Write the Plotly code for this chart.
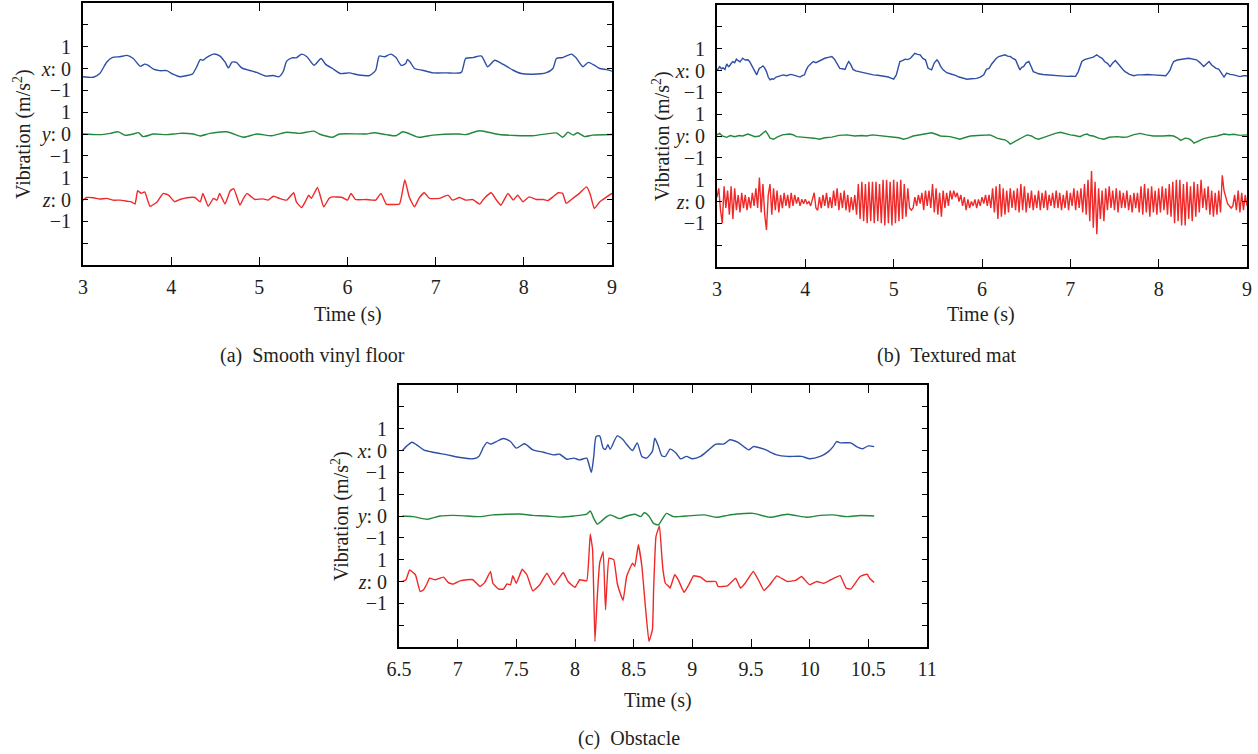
import plotly.graph_objects as go

W, H = 1258, 754
FONT = "Liberation Serif"
BLUE = "#2d4fa6"
GREEN = "#23883b"
RED = "#f02828"
TXT = "#231f20"

# ---------------- (a) Smooth vinyl floor ----------------
a_x_t = [3.00, 3.12, 3.19, 3.27, 3.33, 3.42, 3.50, 3.57, 3.65, 3.70, 3.74, 3.80, 3.87, 3.95, 4.02, 4.10, 4.18, 4.24,
         4.29, 4.33, 4.36, 4.40, 4.48, 4.55, 4.61, 4.65, 4.69, 4.74, 4.80, 4.88, 4.97, 5.08, 5.16, 5.22, 5.27, 5.31,
         5.37, 5.42, 5.48, 5.54, 5.62, 5.70, 5.75, 5.83, 5.92, 6.02, 6.13, 6.25, 6.32, 6.36, 6.42, 6.49, 6.55, 6.61,
         6.66, 6.68, 6.71, 6.76, 6.85, 6.97, 7.12, 7.29, 7.34, 7.42, 7.52, 7.59, 7.67, 7.76, 7.88, 7.97, 8.10, 8.25,
         8.33, 8.37, 8.44, 8.54, 8.59, 8.67, 8.73, 8.80, 8.86, 8.94, 9.00]
a_x_v = [-0.38, -0.40, -0.23, 0.30, 0.50, 0.54, 0.60, 0.46, 0.10, 0.20, 0.14, -0.03, -0.10, -0.10, -0.26, -0.38, -0.32,
         -0.26, 0.08, 0.41, 0.38, 0.50, 0.66, 0.58, 0.30, 0.03, 0.29, 0.28, 0.03, -0.08, -0.18, -0.35, -0.32, -0.38,
         -0.15, 0.34, 0.49, 0.49, 0.66, 0.54, 0.15, 0.46, 0.20, 0.00, -0.23, -0.20, -0.30, -0.32, -0.08, 0.57, 0.54,
         0.66, 0.50, 0.14, 0.23, 0.41, 0.30, 0.00, -0.08, -0.20, -0.20, -0.18, 0.46, 0.50, 0.57, 0.08, 0.38, 0.20,
         -0.08, -0.23, -0.26, -0.20, 0.00, 0.46, 0.50, 0.66, 0.50, 0.08, 0.28, 0.15, 0.00, -0.05, -0.12]

a_y_t = [3.00, 3.19, 3.31, 3.40, 3.48, 3.57, 3.63, 3.68, 3.80, 3.95, 4.10, 4.25, 4.33, 4.44, 4.63, 4.82, 4.97, 5.14,
         5.31, 5.46, 5.62, 5.68, 5.83, 5.91, 6.21, 6.30, 6.44, 6.55, 6.63, 6.81, 6.97, 7.27, 7.34, 7.50, 7.72, 8.10,
         8.37, 8.44, 8.50, 8.56, 8.61, 8.69, 8.78, 9.00]
a_y_v = [0.00, -0.03, 0.03, 0.10, -0.06, 0.00, 0.06, -0.12, 0.00, -0.03, 0.03, 0.00, -0.09, 0.03, 0.10, -0.15, 0.00,
         -0.08, 0.08, 0.03, 0.13, 0.00, -0.15, 0.00, 0.00, 0.06, -0.03, -0.08, 0.10, -0.15, -0.05, 0.00, -0.03, 0.15,
         -0.02, -0.08, 0.05, -0.15, 0.08, -0.05, 0.06, -0.12, -0.05, -0.02]

a_z_t = [3.00, 3.04, 3.12, 3.19, 3.27, 3.34, 3.42, 3.50, 3.55, 3.59, 3.62, 3.66, 3.70, 3.76, 3.84, 3.91, 3.97, 4.04,
         4.10, 4.18, 4.27, 4.33, 4.36, 4.42, 4.48, 4.52, 4.55, 4.61, 4.67, 4.71, 4.78, 4.82, 4.86, 4.91, 4.95, 5.04,
         5.10, 5.16, 5.23, 5.31, 5.39, 5.42, 5.48, 5.52, 5.56, 5.59, 5.66, 5.73, 5.79, 5.83, 5.94, 6.00, 6.04, 6.09,
         6.21, 6.32, 6.38, 6.44, 6.51, 6.59, 6.65, 6.70, 6.76, 6.81, 6.87, 6.93, 7.04, 7.14, 7.19, 7.27, 7.34, 7.42,
         7.50, 7.55, 7.63, 7.69, 7.74, 7.82, 7.88, 7.93, 7.99, 8.06, 8.14, 8.22, 8.27, 8.33, 8.39, 8.44, 8.48, 8.54,
         8.63, 8.71, 8.75, 8.80, 8.86, 8.94, 9.00]
a_z_v = [-0.03, 0.09, 0.08, 0.02, 0.05, -0.03, -0.03, -0.08, -0.11, -0.21, 0.40, 0.28, 0.35, -0.31, -0.11, 0.28, 0.20,
         -0.10, 0.00, 0.08, 0.09, -0.11, 0.28, -0.31, 0.05, -0.03, 0.28, -0.21, 0.40, 0.50, -0.26, 0.05, 0.28, 0.12,
         0.00, 0.03, -0.03, 0.15, 0.05, -0.03, 0.31, -0.11, -0.37, -0.11, 0.20, 0.05, 0.55, -0.34, 0.05, 0.12, 0.09,
         -0.03, 0.28, 0.00, 0.00, -0.03, 0.28, -0.21, -0.23, -0.21, 0.89, 0.12, -0.34, 0.05, 0.31, 0.05, 0.05, 0.20,
         -0.03, 0.09, -0.03, 0.00, -0.21, 0.05, 0.31, -0.03, -0.26, 0.28, -0.03, 0.20, -0.10, 0.12, 0.00, 0.00, -0.05,
         0.12, 0.31, 0.28, -0.18, 0.00, 0.28, 0.58, 0.28, -0.41, -0.11, 0.12, 0.28]

# ---------------- (b) Textured mat ----------------
b_x_t = [3.00, 3.03, 3.05, 3.07, 3.09, 3.11, 3.13, 3.14, 3.16, 3.18, 3.20, 3.22, 3.24, 3.26, 3.28, 3.29, 3.32, 3.35,
         3.37, 3.39, 3.41, 3.43, 3.45, 3.47, 3.48, 3.50, 3.52, 3.54, 3.56, 3.58, 3.60, 3.62, 3.64, 3.67, 3.71, 3.75,
         3.79, 3.83, 3.86, 3.90, 3.94, 3.97, 3.99, 4.01, 4.03, 4.06, 4.09, 4.12, 4.15, 4.18, 4.22, 4.26, 4.30, 4.33,
         4.36, 4.39, 4.42, 4.45, 4.47, 4.49, 4.51, 4.54, 4.57, 4.60, 4.64, 4.69, 4.73, 4.77, 4.82, 4.86, 4.90, 4.94,
         4.97, 5.00, 5.03, 5.05, 5.07, 5.10, 5.13, 5.16, 5.19, 5.22, 5.24, 5.27, 5.30, 5.33, 5.36, 5.39, 5.41, 5.43,
         5.46, 5.49, 5.51, 5.53, 5.56, 5.60, 5.64, 5.68, 5.70, 5.74, 5.78, 5.83, 5.88, 5.94, 5.98, 6.02, 6.05, 6.08,
         6.11, 6.13, 6.16, 6.19, 6.22, 6.26, 6.29, 6.32, 6.35, 6.38, 6.41, 6.43, 6.45, 6.47, 6.50, 6.53, 6.56, 6.58,
         6.61, 6.64, 6.69, 6.74, 6.80, 6.85, 6.90, 6.96, 7.01, 7.06, 7.09, 7.11, 7.13, 7.16, 7.19, 7.23, 7.26, 7.30,
         7.33, 7.36, 7.39, 7.42, 7.45, 7.48, 7.51, 7.54, 7.57, 7.60, 7.62, 7.67, 7.72, 7.76, 7.81, 7.87, 7.94, 8.01,
         8.08, 8.11, 8.13, 8.15, 8.17, 8.21, 8.25, 8.30, 8.34, 8.39, 8.43, 8.47, 8.51, 8.54, 8.57, 8.60, 8.62, 8.65,
         8.68, 8.71, 8.74, 8.77, 8.81, 8.85, 8.89, 8.92, 8.96, 9.00]
b_x_v = [0.00, 0.18, 0.08, 0.12, 0.05, 0.30, 0.18, 0.20, 0.32, 0.41, 0.36, 0.52, 0.45, 0.40, 0.50, 0.56, 0.48, 0.49,
         0.40, 0.26, 0.10, -0.05, -0.20, 0.02, 0.10, 0.15, 0.21, 0.12, -0.05, -0.30, -0.43, -0.38, -0.40, -0.30, -0.24,
         -0.20, -0.24, -0.18, -0.20, -0.26, -0.30, -0.22, -0.20, 0.02, 0.18, 0.30, 0.41, 0.36, 0.42, 0.48, 0.56, 0.60,
         0.64, 0.52, 0.30, 0.10, 0.08, 0.05, 0.25, 0.41, 0.30, 0.05, -0.02, -0.05, -0.10, -0.15, -0.18, -0.20, -0.22,
         -0.24, -0.28, -0.30, -0.35, -0.40, -0.20, 0.10, 0.41, 0.45, 0.52, 0.50, 0.56, 0.70, 0.79, 0.74, 0.72, 0.55,
         0.49, 0.10, 0.05, 0.03, 0.35, 0.49, 0.38, 0.20, 0.03, -0.10, -0.15, -0.18, -0.22, -0.30, -0.35, -0.40, -0.38,
         -0.36, -0.30, -0.20, 0.05, 0.10, 0.30, 0.41, 0.55, 0.64, 0.68, 0.72, 0.66, 0.64, 0.55, 0.49, 0.20, 0.03, 0.15,
         0.18, 0.35, 0.41, 0.15, -0.05, -0.10, -0.15, -0.18, -0.20, -0.22, -0.24, -0.26, -0.27, -0.26, -0.27, -0.05,
         0.20, 0.41, 0.50, 0.52, 0.58, 0.61, 0.72, 0.62, 0.56, 0.40, 0.33, 0.18, 0.35, 0.46, 0.30, 0.18, 0.02, -0.05,
         -0.18, -0.24, -0.20, -0.20, -0.18, -0.20, -0.22, -0.24, -0.10, 0.03, 0.25, 0.41, 0.48, 0.52, 0.54, 0.56, 0.52,
         0.49, 0.35, 0.18, 0.30, 0.41, 0.25, 0.18, 0.10, 0.06, -0.10, -0.30, -0.12, -0.18, -0.20, -0.24, -0.28, -0.24,
         -0.24]

b_y_t = [3.00, 3.03, 3.06, 3.11, 3.15, 3.20, 3.25, 3.29, 3.35, 3.39, 3.43, 3.48, 3.52, 3.55, 3.58, 3.60, 3.64, 3.68,
         3.74, 3.82, 3.86, 3.90, 3.96, 4.05, 4.10, 4.16, 4.22, 4.30, 4.38, 4.47, 4.56, 4.64, 4.69, 4.76, 4.85, 5.00,
         5.06, 5.11, 5.16, 5.22, 5.30, 5.38, 5.43, 5.48, 5.53, 5.64, 5.70, 5.75, 5.80, 5.87, 5.95, 6.02, 6.09, 6.13,
         6.17, 6.22, 6.26, 6.29, 6.32, 6.36, 6.40, 6.45, 6.51, 6.56, 6.60, 6.64, 6.70, 6.77, 6.83, 6.89, 6.94, 7.00,
         7.05, 7.11, 7.15, 7.19, 7.22, 7.26, 7.32, 7.38, 7.44, 7.53, 7.59, 7.64, 7.72, 7.79, 7.86, 7.94, 8.05, 8.12,
         8.17, 8.21, 8.25, 8.30, 8.34, 8.37, 8.40, 8.45, 8.51, 8.58, 8.66, 8.74, 8.80, 8.85, 8.92, 9.00]
b_y_v = [0.05, 0.12, 0.00, -0.06, 0.02, -0.03, 0.02, 0.00, 0.09, 0.03, -0.03, 0.00, 0.12, 0.23, 0.05, -0.10, -0.15,
         -0.05, 0.05, 0.09, 0.06, -0.03, -0.05, -0.06, -0.10, -0.15, -0.08, -0.05, 0.03, 0.05, 0.00, 0.02, 0.00, 0.05,
         0.02, -0.03, -0.08, -0.15, -0.10, 0.00, 0.05, 0.10, 0.15, 0.08, 0.00, -0.03, -0.08, -0.15, -0.08, 0.00, 0.02,
         0.05, 0.05, -0.02, -0.10, -0.15, -0.18, -0.25, -0.37, -0.28, -0.18, -0.08, 0.05, 0.00, -0.10, -0.15, -0.06,
         0.05, 0.12, 0.17, 0.10, 0.05, 0.02, -0.03, 0.05, 0.09, 0.02, 0.00, -0.10, -0.15, -0.06, -0.03, -0.06, -0.05,
         0.06, 0.12, 0.05, 0.00, 0.00, 0.02, 0.00, -0.08, -0.20, -0.10, -0.12, -0.20, -0.33, -0.25, -0.12, -0.05, 0.00,
         0.09, 0.06, 0.08, 0.03, 0.05]

# z of textured mat, sampled every 0.02 s from 3.00 s to 9.00 s
b_z_start = 3.00
b_z_step = 0.02
b_z_v = [
    0.2, 0.6, -0.4, -1.0, 0.7, -0.3, 0.5, -0.6, 0.7, -0.8,
    0.6, -0.4, 0.3, -0.5, 0.4, -0.3, 0.3, -0.4, 0.2, -0.3,
    0.4, -0.2, 0.6, -0.3, 1.1, -0.5, 0.8, -0.6, -1.3, 0.3,
    0.8, -0.6, 0.6, -0.4, 0.5, -0.5, 0.3, -0.3, 0.4, -0.2,
    0.3, -0.3, 0.4, -0.2, 0.3, -0.1, 0.2, -0.2, 0.1, -0.1,
    0.1, -0.1, 0.0, -0.2, 0.1, 0.4, -0.3, -0.4, 0.2, -0.3,
    0.3, -0.2, 0.4, -0.3, 0.2, -0.3, 0.5, -0.2, 0.6, -0.4,
    0.4, -0.3, 0.5, -0.4, 0.3, -0.5, 0.2, -0.4, 0.3, -0.6,
    0.8, -0.8, 0.9, -0.9, 0.8, -1.0, 0.9, -0.9, 0.9, -1.0,
    0.9, -0.9, 0.8, -1.0, 1.0, -1.1, 1.0, -1.0, 0.9, -1.1,
    1.0, -1.0, 0.9, -0.9, 1.0, -0.8, 0.8, -0.7, 0.6, -0.3,
    -0.4, -0.3, 0.2, -0.2, 0.3, -0.1, 0.4, -0.4, 0.5, -0.2,
    0.5, -0.3, 0.8, -0.5, 0.6, -0.6, 0.4, -0.7, 0.5, -0.3,
    0.4, -0.2, 0.5, 0.1, 0.5, 0.2, 0.4, 0.0, 0.3, -0.2,
    0.2, -0.4, 0.1, -0.3, 0.0, -0.2, 0.1, -0.3, 0.1, -0.2,
    0.2, -0.1, 0.3, -0.2, 0.3, -0.3, 0.6, -0.5, 0.7, -0.8,
    0.8, -0.7, 0.6, -0.6, 0.5, -0.5, 0.6, -0.3, 0.5, -0.4,
    0.6, -0.5, 0.8, -0.4, 0.7, -0.5, 0.4, -0.3, 0.5, -0.4,
    0.3, -0.3, 0.5, -0.4, 0.4, -0.3, 0.5, -0.4, 0.3, -0.2,
    0.4, -0.3, 0.5, -0.3, 0.4, -0.4, 0.3, -0.3, 0.5, -0.4,
    0.4, -0.2, 0.6, -0.4, 0.5, -0.3, 0.6, -0.5, 0.8, -0.6,
    1.0, -0.9, 1.4, -1.2, 0.9, -1.5, 0.6, -0.8, 0.5, -0.9,
    0.6, -0.4, 0.7, -0.3, 0.5, -0.4, 0.6, -0.5, 0.5, -0.3,
    0.4, -0.3, 0.5, -0.4, 0.3, -0.5, 0.4, -0.3, 0.4, -0.5,
    0.7, -0.6, 0.8, -0.5, 0.6, -0.7, 0.7, -0.5, 0.5, -0.6,
    0.6, -0.5, 0.7, -0.4, 0.6, -0.6, 0.8, -0.7, 0.9, -1.0,
    1.0, -0.9, 1.0, -1.1, 0.8, -1.1, 0.9, -0.8, 0.7, -0.9,
    0.9, -0.7, 0.8, -0.5, 1.0, -0.3, 0.6, -0.4, 0.7, -0.6,
    0.5, -0.7, 0.4, -0.6, 0.5, -0.5, 1.2, 0.5, 0.2, -0.1,
    -0.2, -0.3, -0.2, 0.3, -0.4, 0.5, -0.5, 0.4, -0.4, 0.3,
    -0.2]
b_z_t = [round(b_z_start + b_z_step * i, 2) for i in range(len(b_z_v))]

# ---------------- (c) Obstacle ----------------
c_x_t = [6.53, 6.565, 6.61, 6.65, 6.71, 6.79, 6.91, 7.02, 7.13, 7.18, 7.22, 7.25, 7.28, 7.33, 7.39, 7.45, 7.50, 7.57,
         7.64, 7.73, 7.82, 7.87, 7.93, 7.99, 8.04, 8.10, 8.12, 8.14, 8.16, 8.18, 8.21, 8.24, 8.26, 8.28, 8.30, 8.36,
         8.41, 8.43, 8.49, 8.53, 8.57, 8.61, 8.66, 8.68, 8.71, 8.74, 8.77, 8.81, 8.86, 8.90, 8.95, 9.00, 9.07, 9.14,
         9.20, 9.27, 9.32, 9.39, 9.48, 9.52, 9.61, 9.72, 9.81, 9.93, 10.00, 10.09, 10.16, 10.20, 10.23, 10.26, 10.35,
         10.40, 10.45, 10.50, 10.55]
c_x_v = [0.00, 0.20, 0.38, 0.26, 0.03, -0.08, -0.20, -0.32, -0.38, -0.27, 0.15, 0.37, 0.29, 0.41, 0.55, 0.41, 0.11,
         0.31, 0.03, -0.08, -0.20, -0.17, -0.40, -0.35, -0.43, -0.35, -0.66, -1.00, -0.27, 0.64, 0.67, 0.11, 0.05,
         0.26, 0.06, 0.67, 0.49, 0.35, 0.00, 0.35, -0.27, -0.35, -0.03, 0.56, 0.21, -0.24, -0.27, 0.06, -0.11, -0.38,
         -0.27, -0.38, -0.27, 0.03, 0.29, 0.30, 0.49, 0.37, 0.03, 0.18, 0.06, -0.20, -0.27, -0.27, -0.38, -0.27, -0.05,
         0.18, 0.41, 0.35, 0.35, 0.18, 0.08, 0.21, 0.18]

c_y_t = [6.53, 6.62, 6.74, 6.85, 6.96, 7.08, 7.19, 7.30, 7.42, 7.53, 7.64, 7.76, 7.87, 7.99, 8.10, 8.13, 8.16, 8.19,
         8.23, 8.27, 8.30, 8.38, 8.44, 8.51, 8.56, 8.59, 8.63, 8.67, 8.71, 8.74, 8.78, 8.84, 8.95, 9.10, 9.21, 9.30,
         9.38, 9.52, 9.66, 9.81, 9.98, 10.09, 10.20, 10.32, 10.43, 10.55]
c_y_v = [0.00, -0.03, -0.15, 0.00, 0.03, 0.00, -0.03, 0.05, 0.08, 0.09, 0.03, 0.00, -0.05, 0.00, 0.09, 0.23, -0.11,
         -0.37, -0.21, -0.03, 0.05, -0.12, 0.00, 0.08, -0.03, 0.15, 0.00, -0.34, -0.41, -0.18, 0.12, -0.03, 0.00, 0.05,
         -0.06, 0.03, 0.09, 0.12, -0.06, 0.08, -0.06, 0.03, 0.05, -0.03, 0.02, 0.00]

c_z_t = [6.53, 6.56, 6.59, 6.64, 6.68, 6.71, 6.74, 6.76, 6.81, 6.88, 6.92, 6.96, 7.02, 7.08, 7.13, 7.19, 7.23, 7.28,
         7.30, 7.35, 7.39, 7.42, 7.45, 7.47, 7.50, 7.55, 7.59, 7.64, 7.70, 7.76, 7.82, 7.90, 7.94, 8.00, 8.04, 8.10,
         8.13, 8.15, 8.17, 8.19, 8.21, 8.24, 8.26, 8.29, 8.33, 8.36, 8.38, 8.41, 8.44, 8.49, 8.51, 8.54, 8.57, 8.60,
         8.63, 8.66, 8.67, 8.69, 8.72, 8.74, 8.75, 8.77, 8.80, 8.81, 8.85, 8.88, 8.93, 8.97, 9.01, 9.07, 9.12, 9.20,
         9.22, 9.30, 9.37, 9.41, 9.45, 9.52, 9.57, 9.61, 9.66, 9.72, 9.81, 9.88, 9.93, 10.00, 10.06, 10.12, 10.18,
         10.26, 10.31, 10.35, 10.43, 10.49, 10.51, 10.55]
c_z_v = [0.00, 0.08, 0.53, 0.31, -0.46, -0.38, -0.08, 0.15, 0.08, 0.20, -0.05, -0.12, 0.03, 0.08, 0.08, -0.23, -0.05,
         0.46, -0.08, -0.35, -0.35, -0.11, -0.15, 0.26, -0.08, 0.56, 0.31, -0.43, -0.15, 0.38, -0.15, 0.41, 0.00,
         -0.27, 0.08, 0.03, 2.18, 1.45, -2.75, -0.69, 0.84, 1.37, -1.30, 1.07, 1.00, -0.08, -0.46, -0.87, 0.23, 0.84,
         0.70, 1.68, 0.70, -1.15, -2.75, -2.20, -0.38, 2.06, 2.55, 1.15, 0.53, -0.08, -0.23, -0.31, 0.31, 0.08, -0.50,
         -0.15, 0.26, 0.20, 0.00, 0.00, -0.23, -0.20, 0.15, -0.30, -0.08, 0.46, 0.00, -0.41, -0.15, 0.26, 0.00, 0.05,
         0.23, -0.15, 0.00, -0.08, 0.08, 0.27, -0.30, -0.35, 0.23, 0.34, 0.15, -0.05]

# ---------------- axis labels ----------------
y_tickvals = [4, 3, 2, 1, 0, -1, -2, -3, -4]
y_ticktext = ["1", "<i>x</i>: 0", "\u22121", "1", "<i>y</i>: 0", "\u22121", "1", "<i>z</i>: 0", "\u22121"]
ab_xticks = [3, 4, 5, 6, 7, 8, 9]
c_xticks = [6.5, 7, 7.5, 8, 8.5, 9, 9.5, 10, 10.5, 11]
channel_offsets = {"x": 3, "y": 0, "z": -3}

fig = go.Figure()


def add(t, v, ch, color, xa, ya, shape="linear", smooth=0.6):
    off = channel_offsets[ch]
    fig.add_trace(go.Scatter(
        x=t, y=[val + off for val in v], mode="lines",
        line=dict(color=color, width=1.4, shape=shape, smoothing=smooth if shape == "spline" else None),
        xaxis=xa, yaxis=ya, showlegend=False, hoverinfo="skip"))


add(a_x_t, a_x_v, "x", BLUE, "x", "y", "spline")
add(a_y_t, a_y_v, "y", GREEN, "x", "y", "spline")
add(a_z_t, a_z_v, "z", RED, "x", "y", "spline", 0.4)
add(b_x_t, b_x_v, "x", BLUE, "x2", "y2")
add(b_y_t, b_y_v, "y", GREEN, "x2", "y2")
add(b_z_t, b_z_v, "z", RED, "x2", "y2")
add(c_x_t, c_x_v, "x", BLUE, "x3", "y3", "spline")
add(c_y_t, c_y_v, "y", GREEN, "x3", "y3", "spline")
add(c_z_t, c_z_v, "z", RED, "x3", "y3", "spline", 0.3)


def px(xp):
    return xp / W


def py(yp):
    return 1 - yp / H


FS = 20
tickfont = dict(family=FONT, size=FS, color=TXT)


def xaxis(dom, rng, vals, anchor):
    return dict(domain=[px(dom[0]), px(dom[1])], range=rng, tickvals=vals,
                ticktext=[("%g" % v) for v in vals], anchor=anchor, automargin=False,
                showline=True, linecolor="black", linewidth=1.8, mirror="ticks",
                ticks="inside", ticklen=8, tickwidth=1.2, tickcolor="black",
                showgrid=False, zeroline=False, tickfont=tickfont, ticklabelstandoff=3)


def yaxis(dom, anchor):
    return dict(domain=[py(dom[1]), py(dom[0])], range=[-6, 6], tickvals=y_tickvals, ticktext=y_ticktext,
                anchor=anchor, automargin=False, showline=True, linecolor="black", linewidth=1.8, mirror="ticks",
                ticks="inside", ticklen=5, tickwidth=1.2, tickcolor="black",
                minor=dict(tick0=0, dtick=1, ticks="inside", ticklen=5, tickwidth=1.2, tickcolor="black",
                           showgrid=False),
                showgrid=False, zeroline=False, tickfont=tickfont, ticklabelstandoff=6)


fig.update_layout(
    width=W, height=H, margin=dict(l=0, r=0, t=0, b=0, autoexpand=False),
    paper_bgcolor="white", plot_bgcolor="white",
    xaxis=xaxis((83, 612), [3, 9], ab_xticks, "y"),
    yaxis=yaxis((3, 265), "x"),
    xaxis2=xaxis((717, 1247), [3, 9], ab_xticks, "y2"),
    yaxis2=yaxis((5, 267), "x2"),
    xaxis3=xaxis((399, 927), [6.5, 11], c_xticks, "y3"),
    yaxis3=yaxis((385, 647), "x3"),
)

labfont = dict(family=FONT, size=FS, color=TXT)
annots = [
    (348, 314, "Time (s)", 0),
    (981, 314, "Time (s)", 0),
    (658, 700, "Time (s)", 0),
    (22, 134, "Vibration (m/s<sup>2</sup>)", -90),
    (662, 136, "Vibration (m/s<sup>2</sup>)", -90),
    (340, 516, "Vibration (m/s<sup>2</sup>)", -90),
    (312, 355, "(a)\u00a0\u00a0Smooth vinyl floor", 0),
    (947, 355, "(b)\u00a0\u00a0Textured mat", 0),
    (629, 738, "(c)\u00a0\u00a0Obstacle", 0),
]
for xp, yp, text, ang in annots:
    fig.add_annotation(x=px(xp), y=py(yp), xref="paper", yref="paper", text=text, showarrow=False,
                       textangle=ang, font=labfont, xanchor="center", yanchor="middle")

fig.write_html("out.html", config={"displayModeBar": False},
               post_script="document.body.style.margin='0';document.body.style.overflow='hidden';")
